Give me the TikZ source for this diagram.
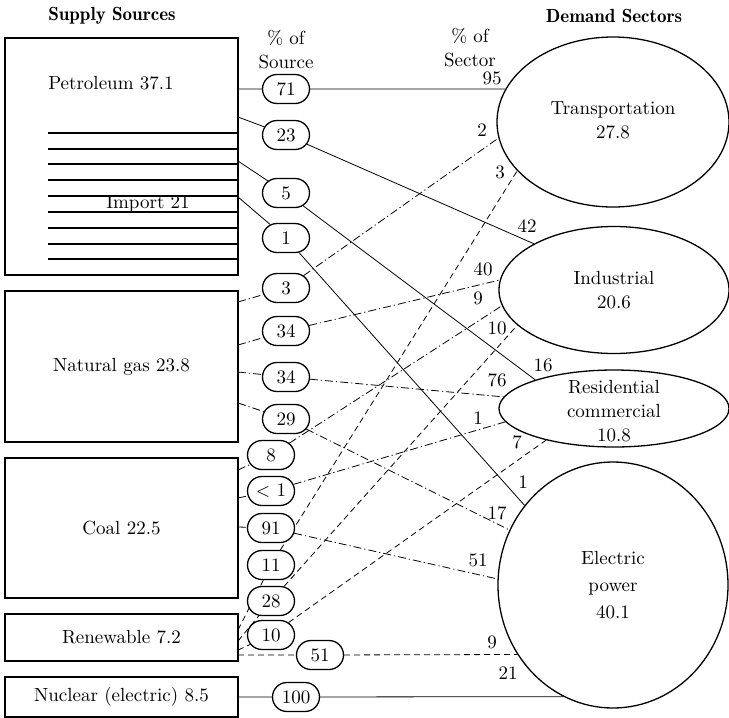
\documentclass[tikz,border=0pt]{standalone}
\usetikzlibrary{shapes.geometric,shapes.misc,backgrounds}

\tikzstyle{title} = [font=\fontsize{9.5}{12}\fontseries{b}\selectfont]
\tikzstyle{srcbox} = [draw, rectangle, inner sep=0pt, minimum width=116.5pt]
\tikzstyle{share} = [draw, rounded rectangle, fill=white, inner sep=0pt, minimum width=23.5pt, minimum height=14.5pt]
\tikzstyle{sector} = [draw, ellipse, inner sep=0pt]
\tikzstyle{gasline} = [dash pattern=on 4pt off 1.5pt on 0.6pt off 1.5pt]
\tikzstyle{renewline} = [dash pattern=on 3pt off 2pt]

\begin{document}
\begin{tikzpicture}[x=0.5pt, y=-0.5pt, line width=0.65pt, font=\fontsize{9.5}{12}\selectfont]
		\useasboundingbox (0,0) rectangle (729,718);
		% headings
		\node[title] (suptitle) at (112,16) {Supply Sources};
		\node[title] (demtitle) at (614,16) {Demand Sectors};
		\node[align=center] (srcpct) at (286,50) {\% of\\Source};
		\node[align=center] (secpct) at (470,48) {\% of\\Sector};
		% supply sources
		\node[srcbox, minimum height=118.5pt] (oil) at (121.5,156.5) {};
		\node (oiltext) at (111,83) {Petroleum 37.1};
		\draw (48,133) -- (238,133);
		\draw (48,149) -- (238,149);
		\draw (48,164) -- (238,164);
		\draw (48,180) -- (238,180);
		\draw (48,196) -- (238,196);
		\draw (48,212) -- (238,212);
		\draw (48,228) -- (238,228);
		\draw (48,244) -- (238,244);
		\draw (48,259) -- (238,259);
		\node (imptext) at (148,204) {Import 21};
		\node[srcbox, minimum height=75.5pt] (gas) at (121.5,366.5) {Natural gas 23.8};
		\node[srcbox, minimum height=70pt] (coal) at (121.5,528) {Coal 22.5};
		\node[srcbox, minimum height=23.5pt] (renew) at (121.5,637.5) {Renewable 7.2};
		\node[srcbox, minimum height=20pt] (nuc) at (121.5,697) {Nuclear (electric) 8.5};
		\coordinate (o1) at (238,89);
		\coordinate (o2) at (238,117);
		\coordinate (o3) at (238,161);
		\coordinate (o4) at (238,197);
		\coordinate (g1) at (238,302);
		\coordinate (g2) at (238,345);
		\coordinate (g3) at (238,372);
		\coordinate (g4) at (238,403);
		\coordinate (c1) at (238,470);
		\coordinate (c2) at (238,498);
		\coordinate (c3) at (238,527);
		\coordinate (r1) at (238,630);
		\coordinate (r2) at (238,641);
		\coordinate (r3) at (238,650);
		\coordinate (r4) at (238,655);
		\coordinate (n1) at (238,697);
		% demand sectors
		\node[sector, minimum width=116pt, minimum height=85pt] (trans) at (613,122) {};
		\node[align=center] (transtext) at (613,120) {Transportation\\27.8};
		\node[sector, minimum width=115pt, minimum height=63.5pt] (ind) at (614,290) {};
		\node[align=center] (indtext) at (614,290) {Industrial\\20.6};
		\node[sector, minimum width=115pt, minimum height=38.5pt] (res) at (614,408.5) {};
		\node[align=center] (restext) at (614,411) {Residential\\commercial\\10.8};
		\node[sector, minimum width=115pt, minimum height=123pt] (elec) at (613,585) {};
		\node[align=center] (electext) at (613,585) {Electric\\[1.5pt]power\\[1.5pt]40.1};
		% percent of source
		\node[share] (p71) at (286,89) {71};
		\node[share] (p23) at (286,135) {23};
		\node[share] (p5) at (286,193) {5};
		\node[share] (p1) at (286,238) {1};
		\node[share] (p3) at (286,288) {3};
		\node[share] (p34a) at (286,331) {34};
		\node[share] (p34b) at (286,377) {34};
		\node[share] (p29) at (286,419) {29};
		\node[share] (p8) at (271,455) {8};
		\node[share] (plt1) at (271,491) {$<$ 1};
		\node[share] (p91) at (271,528) {91};
		\node[share] (p11) at (271,565) {11};
		\node[share] (p28) at (271,601) {28};
		\node[share] (p10) at (271,635) {10};
		\node[share] (p51) at (320,655) {51};
		\node[share] (p100) at (296,697) {100};
		% percent of sector
		\node (s95) at (492,78) {95};
		\node (s2) at (482,130) {2};
		\node (s3) at (500,172) {3};
		\node (s42) at (527,226) {42};
		\node (s40) at (483,269) {40};
		\node (s9a) at (478,298) {9};
		\node (s10) at (497,328) {10};
		\node (s16) at (543,365) {16};
		\node (s76) at (497,380) {76};
		\node (s1a) at (478,418) {1};
		\node (s7) at (517,442) {7};
		\node (s1b) at (523,482) {1};
		\node (s17) at (497,513) {17};
		\node (s51) at (478,560) {51};
		\node (s9b) at (492,642) {9};
		\node (s21) at (508,673) {21};
		% flows
		\begin{scope}[on background layer]
		\draw (o1) -- (p71) -- (trans.163);
		\draw (o2) -- (p23) -- (ind.150);
		\draw (o3) -- (p5) -- (res.160);
		\draw (o4) -- (p1) -- (elec.138);
		\draw[gasline] (g1) -- (p3) -- (trans.188);
		\draw[gasline] (g2) -- (p34a) -- (ind.175);
		\draw[gasline] (g3) -- (p34b) -- (res.174);
		\draw[gasline] (g4) -- (p29) -- (elec.152);
		\draw[gasline] (c1) -- (p8) -- (ind.188);
		\draw[gasline] (c2) -- (plt1) -- (res.187);
		\draw[gasline] (c3) -- (p91) -- (elec.177.5);
		\draw[renewline] (r1) -- (p11) -- (trans.207);
		\draw[renewline] (r2) -- (p28) -- (ind.200);
		\draw[renewline] (r3) -- (p10) -- (res.205);
		\draw[renewline] (r4) -- (p51) -- (elec.216.4);
		\draw (n1) -- (p100) -- (elec.246.8);
		\end{scope}
\end{tikzpicture}
\end{document}
